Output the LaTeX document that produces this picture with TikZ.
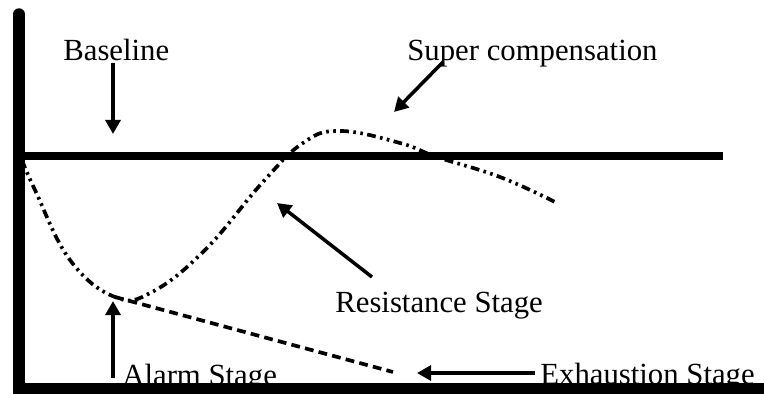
\documentclass[tikz,border=0pt]{standalone}
\usepackage{fontspec}
\setmainfont{Liberation Serif}
\usepackage{tikz}
\usetikzlibrary{arrows.meta,positioning}

\begin{document}
\begin{tikzpicture}[x=0.02cm,y=-0.02cm,>={Triangle[length=8pt,width=8.5pt]},
    axisline/.style={line width=6.5pt,line cap=round},
    baseline/.style={line width=4.5pt},
    stagearrow/.style={->,line width=2pt},
    curveline/.style={line width=2.1pt,
      dash pattern=on 5pt off 2.5pt on 1.5pt off 2.5pt on 1.5pt off 2.5pt},
    exhaustline/.style={line width=2.1pt,dash pattern=on 5pt off 3pt},
    lbl/.style={anchor=base west,inner sep=0pt,
      font=\fontsize{17.5}{21}\selectfont}]
      \useasboundingbox (0,0) rectangle (764,393);
      % labels
      \node[lbl] (baseLbl) at (63,60) {Baseline};
      \node[lbl] (superLbl) at (407,60) {Super compensation};
      \node[lbl] (resistLbl) at (335,312) {Resistance Stage};
      \node[lbl] (alarmLbl) at (122,385) {Alarm Stage};
      \node[lbl] (exhaustLbl) at (540,384) {Exhaustion Stage};
      % arrow ends
      \coordinate (baseTail) at (113,63);
      \coordinate (baseTip) at (113,134);
      \coordinate (superTail) at (443,62);
      \coordinate (superTip) at (394,112);
      \coordinate (resistTail) at (372,277);
      \coordinate (resistTip) at (277,203);
      \coordinate (alarmTail) at (113,378);
      \coordinate (alarmTip) at (113,301);
      \coordinate (exhaustTail) at (535,373);
      \coordinate (exhaustTip) at (417,373);
      \coordinate (lowPoint) at (115,297);
      % response curve
      \draw[curveline] plot[smooth,tension=0.7] coordinates {
        (22,160) (35,190) (70,260) (lowPoint) (152,292)
        (205,250) (262,183) (303,143) (340,131)
        (400,143) (437,157) (500,177) (555,202)};
      \draw[exhaustline] (lowPoint) -- (393,372);
      % arrows
      \draw[stagearrow] (baseTail) -- (baseTip);
      \draw[stagearrow] (superTail) -- (superTip);
      \draw[stagearrow] (resistTail) -- (resistTip);
      \draw[stagearrow] (alarmTail) -- (alarmTip);
      \draw[stagearrow] (exhaustTail) -- (exhaustTip);
      % axes
      \draw[baseline] (20,156) -- (723,156);
      \draw[axisline] (19,14) -- (19,389) -- (770,389);
    \end{tikzpicture}
\end{document}
